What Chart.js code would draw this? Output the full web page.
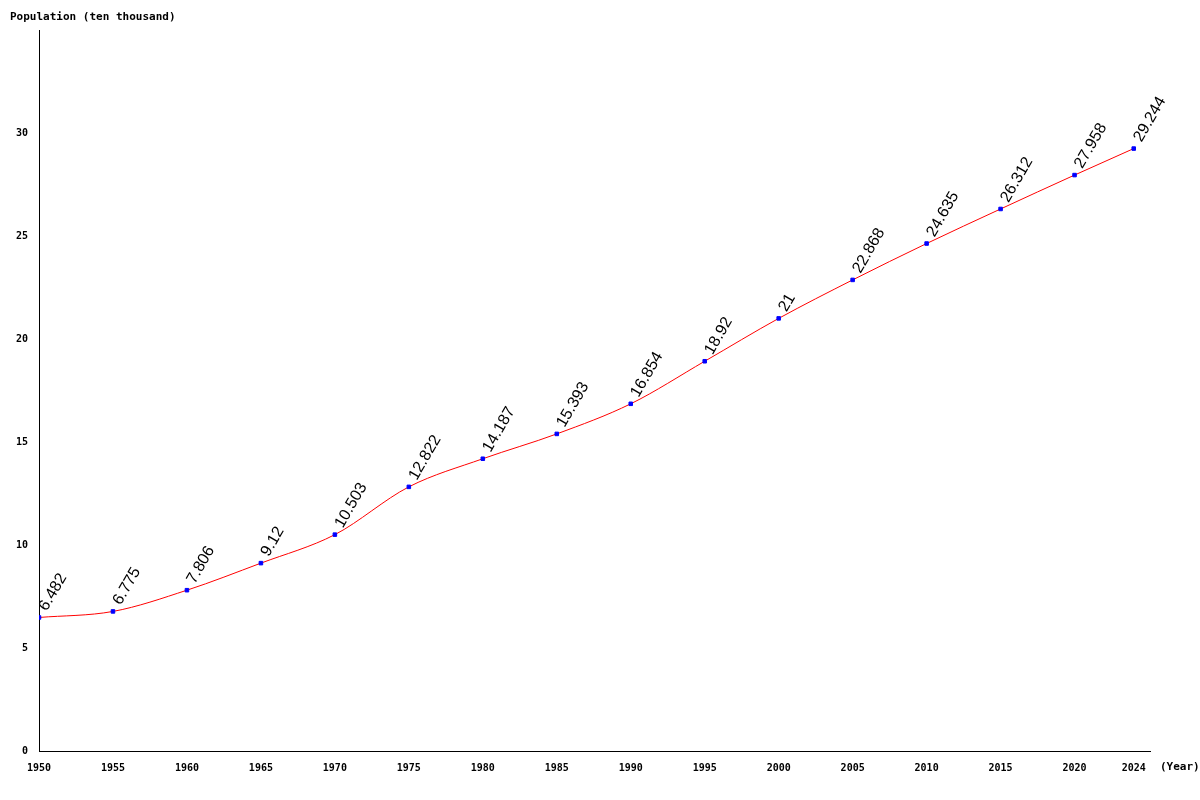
<!DOCTYPE html>
<html><head><meta charset="utf-8">
<script src="https://cdn.jsdelivr.net/npm/chart.js@4/dist/chart.umd.min.js"></script>
<style>body{margin:0;background:#fff}#w{width:1200px;height:800px}</style>
</head><body><div id="w"><canvas id="c"></canvas></div>
<script>
const years=[1950,1955,1960,1965,1970,1975,1980,1985,1990,1995,2000,2005,2010,2015,2020,2024];
const population=[6.482,6.775,7.806,9.12,10.503,12.822,14.187,15.393,16.854,18.92,21,22.868,24.635,26.312,27.958,29.244];
const yTicks=[0,5,10,15,20,25,30];
const labelsPlugin={id:'lbl',afterDatasetsDraw(ch){
  const ctx=ch.ctx,m=ch.getDatasetMeta(0);
  ctx.save();ctx.fillStyle='#000';ctx.font='16px "Liberation Sans", Arial';
  m.data.forEach((p,i)=>{ctx.save();ctx.translate(p.x+4,p.y-8);ctx.rotate(-Math.PI/3);ctx.textAlign='left';ctx.textBaseline='middle';ctx.fillText(String(population[i]),0,0);ctx.restore();});
  ctx.font='bold 11px "DejaVu Sans Mono", monospace';ctx.textBaseline='middle';
  ctx.fillText('Population (ten thousand)',10,17);
  ctx.fillText('(Year)',1160,767);
  ctx.restore();}};
new Chart(document.getElementById('c'),{type:'line',
 data:{datasets:[{data:years.map((y,i)=>({x:y,y:population[i]})),borderColor:'#ff0000',borderWidth:1,
   cubicInterpolationMode:'monotone',pointRadius:2.5,pointStyle:'rect',pointBackgroundColor:'#0000ff',pointBorderColor:'#0000ff'}]},
 options:{responsive:true,maintainAspectRatio:false,animation:false,
  layout:{padding:{top:30,right:50,left:0,bottom:0}},
  plugins:{legend:{display:false},tooltip:{enabled:false}},
  scales:{
   x:{type:'linear',min:1950,max:2025.1,grid:{display:false,drawTicks:true},border:{color:'#000'},
     afterBuildTicks:s=>{s.ticks=years.map(v=>({value:v}));},
     afterFit:s=>{s.height=49;},
     ticks:{color:'#000',maxRotation:0,autoSkip:false,font:{family:'DejaVu Sans Mono',size:10,weight:'bold'},callback:v=>String(v)}},
   y:{min:0,max:35,grid:{display:false},border:{color:'#000'},
     afterBuildTicks:s=>{s.ticks=yTicks.map(v=>({value:v}));},
     afterFit:s=>{s.width=39;},
     ticks:{color:'#000',font:{family:'DejaVu Sans Mono',size:10,weight:'bold'}}}}},
 plugins:[labelsPlugin]});
</script></body></html>
